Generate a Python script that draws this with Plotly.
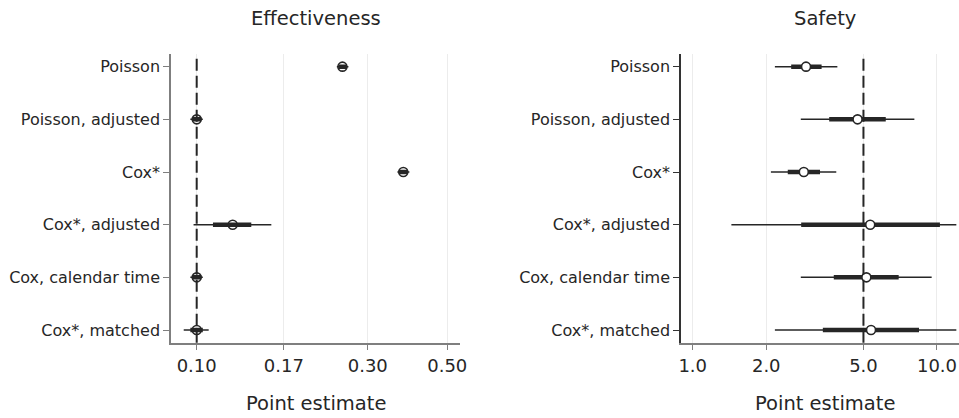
import plotly.graph_objects as go

models = ["Poisson", "Poisson, adjusted", "Cox*", "Cox*, adjusted",
          "Cox, calendar time", "Cox*, matched"]

# Effectiveness (left panel)
eff_est = [0.255, 0.100, 0.377, 0.126, 0.100, 0.100]
eff_lo95 = [0.246, 0.096, 0.363, 0.098, 0.096, 0.092]
eff_hi95 = [0.265, 0.104, 0.392, 0.1615, 0.104, 0.108]
eff_lo80 = [0.249, 0.097, 0.366, 0.111, 0.097, 0.096]
eff_hi80 = [0.262, 0.103, 0.388, 0.142, 0.103, 0.104]

# Safety (right panel)
saf_est = [2.91, 4.73, 2.85, 5.33, 5.14, 5.37]
saf_lo95 = [2.17, 2.77, 2.09, 1.44, 2.77, 2.17]
saf_hi95 = [3.91, 8.08, 3.87, 12.0, 9.51, 12.0]
saf_lo80 = [2.53, 3.62, 2.45, 2.78, 3.78, 3.41]
saf_hi80 = [3.37, 6.17, 3.32, 10.28, 6.97, 8.44]

eff_ref = 0.10
saf_ref = 5.0

eff_ticks = [0.1, 0.175, 0.3, 0.5]
eff_ticktext = ["0.10", "0.17", "0.30", "0.50"]
saf_ticks = [1.0, 2.0, 5.0, 10.0]
saf_ticktext = ["1.0", "2.0", "5.0", "10.0"]

W, H = 959, 418
INK = "#262626"
rows = list(range(len(models)))


def seg(lo, hi):
    xs, ys = [], []
    for i, (a, b) in enumerate(zip(lo, hi)):
        xs += [a, b, None]
        ys += [i, i, None]
    return xs, ys


fig = go.Figure()


def add_panel(est, lo95, hi95, lo80, hi80, xa, ya, fill):
    x, y = seg(lo95, hi95)
    fig.add_trace(go.Scatter(x=x, y=y, mode="lines", line=dict(color=INK, width=1.5),
                             xaxis=xa, yaxis=ya, showlegend=False, hoverinfo="skip"))
    x, y = seg(lo80, hi80)
    fig.add_trace(go.Scatter(x=x, y=y, mode="lines", line=dict(color=INK, width=4.5),
                             xaxis=xa, yaxis=ya, showlegend=False, hoverinfo="skip"))
    fig.add_trace(go.Scatter(x=est, y=rows, mode="markers",
                             marker=dict(symbol="circle", size=9, color=fill,
                                         line=dict(color=INK, width=1.6)),
                             xaxis=xa, yaxis=ya, showlegend=False))


add_panel(eff_est, eff_lo95, eff_hi95, eff_lo80, eff_hi80, "x", "y", "rgba(0,0,0,0)")
add_panel(saf_est, saf_lo95, saf_hi95, saf_lo80, saf_hi80, "x2", "y2", "white")

# reference lines
fig.add_shape(type="line", xref="x", yref="y domain", x0=eff_ref, x1=eff_ref, y0=0, y1=1,
              line=dict(color=INK, width=2, dash="12px,5px"), layer="above")
fig.add_shape(type="line", xref="x2", yref="y2 domain", x0=saf_ref, x1=saf_ref, y0=0, y1=1,
              line=dict(color=INK, width=2, dash="12px,5px"), layer="above")

px = lambda p: p / W
py = lambda p: 1 - p / H

left_dom = [px(171), px(460)]
right_dom = [px(681), 1.0]
ydom = [py(342.7), py(54)]

common_x = dict(type="log", showgrid=True, gridcolor="#ececec", gridwidth=1,
                showline=True, linecolor="#7f7f7f", linewidth=1.5,
                ticks="outside", ticklen=6, tickcolor="#7f7f7f", tickwidth=1.2,
                tickfont=dict(size=18, color=INK, family="DejaVu Sans"),
                zeroline=False, automargin=False)
common_y = dict(range=[5.24, -0.24], tickvals=rows, ticktext=models,
                showgrid=False, showline=True, linewidth=1.5,
                ticks="outside", ticklen=6, tickwidth=1.2,
                tickfont=dict(size=16, color=INK, family="DejaVu Sans"),
                zeroline=False, automargin=False)

fig.update_layout(
    width=W, height=H,
    margin=dict(l=0, r=0, t=0, b=0),
    paper_bgcolor="white", plot_bgcolor="white",
    font=dict(family="DejaVu Sans", color=INK),
    xaxis=dict(domain=left_dom, range=[-1.0717, -0.2655], tickvals=eff_ticks,
               ticktext=eff_ticktext, anchor="y", **common_x),
    xaxis2=dict(domain=right_dom, range=[-0.0479, 1.0901], tickvals=saf_ticks,
                ticktext=saf_ticktext, anchor="y2", **common_x),
    yaxis=dict(domain=ydom, anchor="x", linecolor="#7f7f7f", tickcolor="#7f7f7f", **common_y),
    yaxis2=dict(domain=ydom, anchor="x2", linecolor="#333333", tickcolor="#333333", **common_y),
    showlegend=False,
)

ann = [
    ("Effectiveness", px(315.5), py(18)),
    ("Safety", px(824.5), py(18)),
    ("Point estimate", px(315.5), py(403)),
    ("Point estimate", px(824.5), py(403)),
]
for text, x, y in ann:
    fig.add_annotation(text=text, x=x, y=y, xref="paper", yref="paper",
                       xanchor="center", yanchor="middle", showarrow=False,
                       font=dict(size=19.5, color=INK, family="DejaVu Sans"))

fig.write_html("out.html", config={"displayModeBar": False},
               post_script="document.body.style.margin='0';document.body.style.overflow='hidden';")
